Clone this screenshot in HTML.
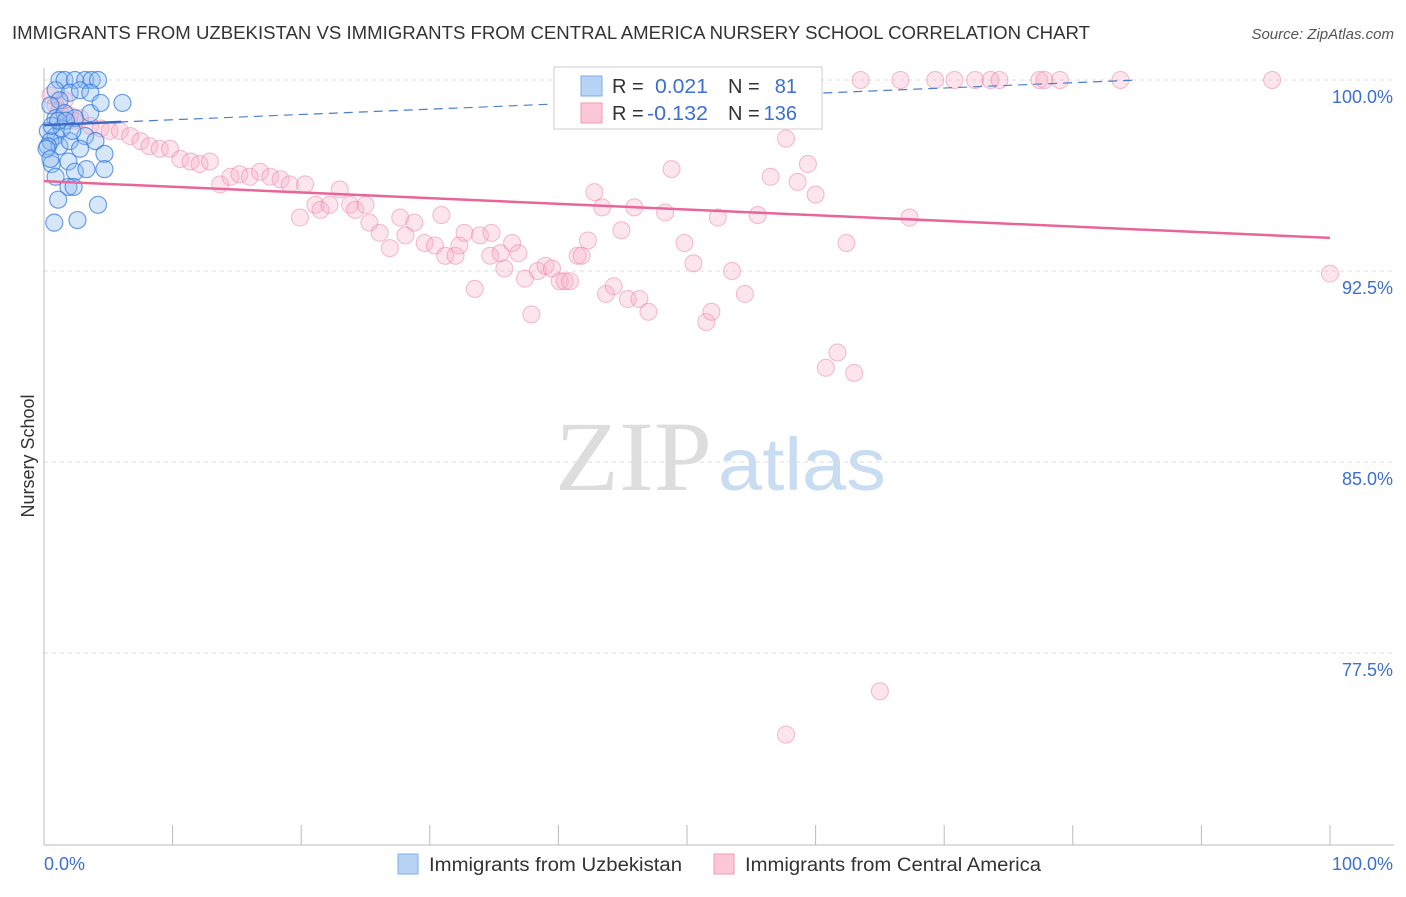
<!DOCTYPE html>
<html><head><meta charset="utf-8"><style>
body{margin:0;background:#fff;font-family:"Liberation Sans",sans-serif}
</style></head><body>
<svg id="chart" width="1406" height="892" xmlns="http://www.w3.org/2000/svg" font-family="Liberation Sans, sans-serif">
<text x="12" y="39" font-size="18" fill="#333" textLength="1078" lengthAdjust="spacingAndGlyphs">IMMIGRANTS FROM UZBEKISTAN VS IMMIGRANTS FROM CENTRAL AMERICA NURSERY SCHOOL CORRELATION CHART</text>
<text x="1394" y="39" font-size="15" fill="#555" text-anchor="end" font-style="italic">Source: ZipAtlas.com</text>
<text x="555" y="490" font-size="100" fill="#ddd" font-family="Liberation Serif, serif" textLength="157" lengthAdjust="spacingAndGlyphs">ZIP</text>
<text x="718" y="490" font-size="74" fill="#c8dcf2" textLength="168" lengthAdjust="spacingAndGlyphs">atlas</text>
<g id="grid"></g><g id="axes"></g><g id="marks"></g>
<text transform="translate(34,456) rotate(-90)" font-size="18" fill="#333" text-anchor="middle">Nursery School</text>
<g>
<rect x="554" y="67" width="268" height="62" fill="#fff" stroke="#ccc"/>
<rect x="581" y="76" width="21" height="20" fill="#b8d4f5" stroke="#7aaee8"/>
<rect x="581" y="103" width="21" height="20" fill="#fcc8d8" stroke="#f29ab6"/>
<text x="612" y="93" font-size="20" fill="#333">R =</text>
<text x="655" y="93" font-size="20" fill="#3b6fd1" textLength="53" lengthAdjust="spacingAndGlyphs">0.021</text>
<text x="728" y="93" font-size="20" fill="#333">N =</text>
<text x="797" y="93" font-size="20" fill="#3b6fd1" text-anchor="end">81</text>
<text x="612" y="120" font-size="20" fill="#333">R =</text>
<text x="647" y="120" font-size="20" fill="#3b6fd1" textLength="61" lengthAdjust="spacingAndGlyphs">-0.132</text>
<text x="728" y="120" font-size="20" fill="#333">N =</text>
<text x="797" y="120" font-size="20" fill="#3b6fd1" text-anchor="end">136</text>
</g>
<g>
<rect x="398" y="854" width="20" height="20" fill="#b8d4f5" stroke="#7aaee8"/>
<text x="429" y="871" font-size="19" fill="#333" textLength="253" lengthAdjust="spacingAndGlyphs">Immigrants from Uzbekistan</text>
<rect x="714" y="854" width="20" height="20" fill="#fcc8d8" stroke="#f29ab6"/>
<text x="745" y="871" font-size="19" fill="#333" textLength="296" lengthAdjust="spacingAndGlyphs">Immigrants from Central America</text>
</g>
</svg>
<script>
const yTicks=[100,92.5,85,77.5];
const yTickLabels=["100.0%","92.5%","85.0%","77.5%"];
const xTickCount=10;
const blueX=[1.2,1.6,2.4,3.2,3.7,4.2,0.9,2.0,2.8,3.6,1.2,6.1,0.5,3.6,0.9,1.6,2.4,0.3,0.9,0.5,1.2,2.0,0.3,3.2,4.0,2.8,4.7,0.6,1.9,2.4,4.7,3.3,0.9,1.9,2.3,4.2,1.1,0.8,2.6,1.4,0.6,1.1,1.7,2.2,0.2,0.5,4.4];
const blueY=[100,100,100,100,100,100,99.6,99.5,99.6,99.5,99.2,99.1,99.0,98.7,98.5,98.7,98.5,98.0,97.8,97.6,97.4,97.6,97.4,97.8,97.6,97.3,97.1,96.7,96.8,96.4,96.5,96.5,96.2,95.8,95.8,95.1,95.3,94.4,94.5,98.1,98.2,98.4,98.4,98.0,97.3,96.9,99.1];
const pinkX=[0.5,0.9,1.2,1.6,2.0,2.4,2.8,3.6,4.4,5.1,5.9,6.7,7.5,8.2,9.0,9.8,10.6,11.4,12.1,12.9,13.7,14.5,15.2,16.0,16.8,17.6,18.4,19.1,19.9,20.3,21.1,21.5,22.2,23.0,23.8,24.2,25.0,25.3,26.1,26.9,27.7,28.1,28.8,29.6,30.4,30.9,31.2,32.0,32.3,32.7,33.5,33.9,34.7,34.8,35.5,35.8,36.4,36.9,37.4,37.9,38.4,39.0,39.5,40.1,40.5,40.9,41.5,41.8,42.3,42.8,43.4,43.7,44.3,44.9,45.4,45.9,46.3,47.0,48.3,48.8,49.8,50.5,51.5,51.9,52.4,53.5,54.5,55.5,56.5,57.7,58.6,59.4,60.0,60.8,61.7,62.4,63.0,65.0,57.7,67.3,100,47.5,49.5,51.0,52.6,55.7,57.6,63.5,66.6,69.3,70.8,72.4,73.6,74.3,77.4,77.8,79.0,83.7,95.5];
const pinkY=[99.4,99.0,98.8,99.2,98.6,98.4,98.5,98.2,98.1,98.0,98.0,97.8,97.6,97.4,97.3,97.3,96.9,96.8,96.7,96.8,95.9,96.2,96.3,96.2,96.4,96.2,96.1,95.9,94.6,95.9,95.1,94.9,95.1,95.7,95.1,94.9,95.1,94.4,94.0,93.4,94.6,93.9,94.4,93.6,93.5,94.7,93.1,93.1,93.5,94.0,91.8,93.9,93.1,94.0,93.2,92.6,93.6,93.2,92.2,90.8,92.5,92.7,92.6,92.1,92.1,92.1,93.1,93.1,93.7,95.6,95.0,91.6,91.9,94.1,91.4,95.0,91.4,90.9,94.8,96.5,93.6,92.8,90.5,90.9,94.6,92.5,91.6,94.7,96.2,97.7,96.0,96.7,95.5,88.7,89.3,93.6,88.5,76.0,74.3,94.6,92.4,100,100,100,100,100,100,100,100,100,100,100,100,100,100,100,100,100,100];
const blueTrend=[98.23,0.0208];
const pinkTrend=[96.03,-0.0223];
const NS="http://www.w3.org/2000/svg";
const xs=v=>44+v*12.86;
const ys=v=>80+(100-v)*25.47;
function mk(tag,attrs,parent){const e=document.createElementNS(NS,tag);for(const k in attrs)e.setAttribute(k,attrs[k]);document.getElementById(parent).appendChild(e);return e;}
yTicks.forEach((t,i)=>{
 const g=mk('line',{x1:44,x2:1394,y1:ys(t),y2:ys(t),stroke:'#ddd','stroke-dasharray':'4,4'},'grid');
 
 
 const l=mk('text',{x:1393,y:ys(t)+23,'font-size':18,fill:'#3b6fd1','text-anchor':'end'},'axes');
 l.textContent=yTickLabels[i];
 
 
});
const ax=mk('line',{x1:44,x2:1394,y1:845,y2:845,stroke:'#bbb'},'axes');


const ay=mk('line',{x1:44,x2:44,y1:68,y2:845,stroke:'#bbb'},'axes');


for(let i=0;i<=xTickCount;i++){
 const t=mk('line',{x1:xs(i*10),x2:xs(i*10),y1:825,y2:845,stroke:'#bbb'},'axes');
 
 
}
const xl0=mk('text',{x:44,y:870,'font-size':18,fill:'#3b6fd1'},'axes');xl0.textContent='0.0%';


const xl1=mk('text',{x:1393,y:870,'font-size':18,fill:'#3b6fd1','text-anchor':'end'},'axes');xl1.textContent='100.0%';


pinkX.forEach((x,i)=>{
 const c=mk('circle',{cx:xs(x),cy:ys(pinkY[i]),r:8.5,fill:'rgba(248,170,196,0.3)',stroke:'rgba(236,120,160,0.5)','stroke-width':1},'marks');
 
 
});
blueX.forEach((x,i)=>{
 const c=mk('circle',{cx:xs(x),cy:ys(blueY[i]),r:8.5,fill:'rgba(140,185,240,0.35)',stroke:'rgba(50,120,220,0.7)','stroke-width':1.2},'marks');
 
 
});
const pl=mk('line',{x1:xs(0),y1:ys(pinkTrend[0]),x2:xs(100),y2:ys(pinkTrend[0]+pinkTrend[1]*100),stroke:'#e8659a','stroke-width':2.5},'marks');


const bl=mk('line',{x1:xs(0),y1:ys(blueTrend[0]),x2:xs(85),y2:ys(blueTrend[0]+blueTrend[1]*85),stroke:'#4a7fd0','stroke-width':1.2,'stroke-dasharray':'9,6'},'marks');


const bs=mk('line',{x1:xs(0),y1:ys(blueTrend[0]),x2:xs(6),y2:ys(blueTrend[0]+blueTrend[1]*6),stroke:'#3a6cc4','stroke-width':2.5},'marks');


</script>
</body></html>
